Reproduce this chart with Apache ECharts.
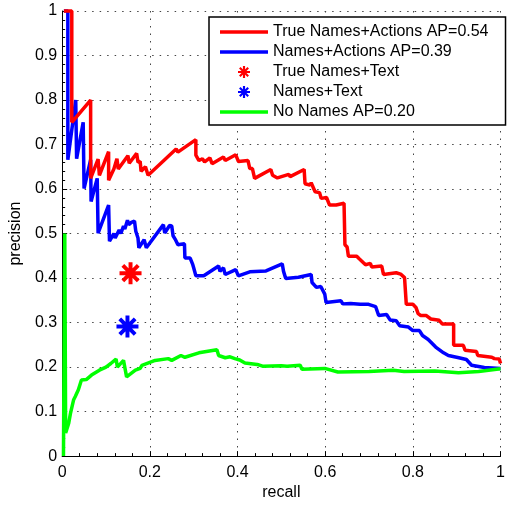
<!DOCTYPE html>
<html>
<head>
<meta charset="utf-8">
<script src="https://cdn.jsdelivr.net/npm/echarts@6/dist/echarts.min.js"></script>
<style>
html,body{margin:0;padding:0;background:#fff;}
#chart{width:508px;height:506px;}
</style>
</head>
<body>
<div id="chart"></div>
<script>
// ---- data ----
const xTickLabels = ['0', '0.2', '0.4', '0.6', '0.8', '1'];
const yTickLabels = ['0', '0.1', '0.2', '0.3', '0.4', '0.5', '0.6', '0.7', '0.8', '0.9', '1'];

const seriesNames = ['True Names+Actions AP=0.54', 'Names+Actions AP=0.39', 'True Names+Text', 'Names+Text', 'No Names AP=0.20'];

const redRecall = [0.004,0.022,0.022,0.065,0.065,0.082,0.085,0.106,0.106,0.118,0.125,0.128,0.150,0.153,0.170,0.173,0.178,0.180,0.190,0.196,0.260,0.264,0.305,0.305,0.312,0.320,0.325,0.337,0.342,0.368,0.372,0.396,0.402,0.424,0.428,0.434,0.439,0.476,0.480,0.491,0.517,0.520,0.552,0.554,0.565,0.568,0.577,0.587,0.591,0.603,0.610,0.625,0.643,0.645,0.650,0.653,0.672,0.677,0.692,0.703,0.706,0.729,0.733,0.762,0.772,0.781,0.785,0.800,0.807,0.812,0.818,0.830,0.841,0.860,0.867,0.893,0.893,0.915,0.919,0.945,0.948,0.980,0.986,0.997,1.0];
const redPrecision = [1.0,1.0,0.75,0.80,0.624,0.667,0.631,0.684,0.620,0.645,0.668,0.645,0.675,0.658,0.680,0.660,0.662,0.640,0.650,0.631,0.690,0.683,0.711,0.676,0.664,0.668,0.661,0.670,0.657,0.672,0.664,0.677,0.662,0.664,0.646,0.646,0.624,0.644,0.631,0.625,0.633,0.628,0.644,0.612,0.609,0.614,0.594,0.592,0.579,0.581,0.564,0.564,0.568,0.475,0.470,0.449,0.449,0.444,0.430,0.433,0.425,0.427,0.408,0.412,0.409,0.401,0.341,0.341,0.334,0.320,0.316,0.316,0.308,0.305,0.297,0.297,0.249,0.249,0.238,0.235,0.226,0.222,0.219,0.218,0.208];

const blueRecall = [0.004,0.013,0.013,0.031,0.033,0.048,0.050,0.065,0.066,0.080,0.082,0.106,0.108,0.118,0.121,0.130,0.134,0.140,0.143,0.149,0.152,0.158,0.165,0.168,0.173,0.175,0.187,0.192,0.231,0.234,0.245,0.250,0.253,0.258,0.264,0.279,0.280,0.292,0.298,0.300,0.305,0.323,0.357,0.360,0.368,0.372,0.396,0.402,0.428,0.465,0.502,0.505,0.510,0.539,0.568,0.570,0.580,0.590,0.599,0.602,0.636,0.640,0.658,0.680,0.699,0.715,0.722,0.740,0.748,0.762,0.770,0.790,0.800,0.815,0.822,0.835,0.852,0.870,0.881,0.905,0.922,0.934,0.963,1.0];
const bluePrecision = [1.0,1.0,0.666,0.80,0.668,0.75,0.601,0.666,0.572,0.624,0.501,0.564,0.483,0.500,0.490,0.508,0.500,0.517,0.510,0.530,0.520,0.525,0.528,0.505,0.490,0.468,0.486,0.468,0.520,0.501,0.518,0.517,0.495,0.487,0.475,0.477,0.445,0.445,0.430,0.423,0.405,0.405,0.427,0.415,0.423,0.408,0.419,0.405,0.414,0.416,0.432,0.415,0.399,0.402,0.408,0.390,0.379,0.381,0.364,0.345,0.349,0.342,0.343,0.341,0.341,0.336,0.316,0.318,0.306,0.304,0.293,0.290,0.282,0.282,0.271,0.262,0.245,0.232,0.226,0.221,0.217,0.204,0.199,0.197];

const greenRecall = [0.003,0.006,0.008,0.015,0.019,0.026,0.030,0.037,0.044,0.048,0.055,0.067,0.071,0.085,0.089,0.100,0.111,0.123,0.126,0.140,0.142,0.147,0.167,0.178,0.182,0.212,0.216,0.242,0.250,0.271,0.280,0.312,0.316,0.353,0.357,0.372,0.383,0.394,0.405,0.417,0.445,0.457,0.500,0.513,0.543,0.547,0.599,0.629,0.700,0.755,0.780,0.850,0.904,0.950,1.0];
const greenPrecision = [0.0,0.50,0.052,0.074,0.096,0.126,0.134,0.149,0.171,0.174,0.172,0.182,0.182,0.193,0.197,0.200,0.208,0.218,0.200,0.215,0.215,0.178,0.193,0.197,0.204,0.215,0.213,0.219,0.215,0.226,0.222,0.232,0.228,0.239,0.226,0.221,0.223,0.219,0.216,0.209,0.206,0.202,0.203,0.202,0.204,0.195,0.197,0.189,0.190,0.193,0.190,0.191,0.187,0.190,0.196];

const trueTextPoint = [0.156, 0.411];
const namesTextPoint = [0.149, 0.291];

// ---- chart ----
const pairs = (xs, ys) => xs.map((x, i) => [x, ys[i]]);
const asterisk = 'path://M0,41L100,41L100,59L0,59Z M41,0L59,0L59,100L41,100Z M21.36,8.64L91.36,78.64L78.64,91.36L8.64,21.36Z M91.36,21.36L21.36,91.36L8.64,78.64L78.64,8.64Z';
const lineIcon = 'path://M0,0 M48,12 M0,4.3 L48,4.3 L48,7.7 L0,7.7 Z';
const FONT = 'Liberation Sans, Arial, Helvetica, sans-serif';

const chart = echarts.init(document.getElementById('chart'), null, {renderer: 'canvas'});
const gridLine = {show: true, lineStyle: {color: '#444', width: 1, type: [1.5, 6]}};
chart.setOption({
  animation: false,
  backgroundColor: '#fff',
  grid: {left: 58, right: 2, top: 11, bottom: 46, containLabel: false},
  xAxis: {
    type: 'value', min: 0, max: 1, interval: 0.2,
    name: 'recall', nameLocation: 'middle', nameGap: 25,
    nameTextStyle: {color: '#000', fontSize: 16, fontFamily: FONT},
    axisLine: {show: true, onZero: false, lineStyle: {color: '#000', width: 1}},
    axisTick: {show: true, inside: true, length: 5, lineStyle: {color: '#000'}},
    minorTick: {show: true, splitNumber: 5, length: 3, lineStyle: {color: '#000'}},
    axisLabel: {color: '#000', fontSize: 16, fontFamily: FONT, margin: 8,
      formatter: v => xTickLabels[Math.round(v * 5)]},
    splitLine: gridLine
  },
  yAxis: {
    type: 'value', min: 0, max: 1, interval: 0.1,
    name: 'precision', nameLocation: 'middle', nameGap: 35,
    nameTextStyle: {color: '#000', fontSize: 16, fontFamily: FONT},
    axisLine: {show: true, onZero: false, lineStyle: {color: '#000', width: 1}},
    axisTick: {show: true, inside: true, length: 5, lineStyle: {color: '#000'}},
    minorTick: {show: true, splitNumber: 5, length: 3, lineStyle: {color: '#000'}},
    axisLabel: {color: '#000', fontSize: 16, fontFamily: FONT, margin: 5,
      formatter: v => yTickLabels[Math.round(v * 10)]},
    splitLine: gridLine
  },
  legend: {
    orient: 'vertical', left: 209, top: 17,
    padding: [7, 17, 5, 11], itemGap: 4,
    itemWidth: 48, itemHeight: 12,
    backgroundColor: '#fff', borderColor: '#000', borderWidth: 1.5, borderRadius: 0,
    textStyle: {color: '#000', fontSize: 16, fontFamily: FONT},
    data: [
      {name: seriesNames[0], icon: lineIcon},
      {name: seriesNames[1], icon: lineIcon},
      {name: seriesNames[2]},
      {name: seriesNames[3]},
      {name: seriesNames[4], icon: lineIcon}
    ]
  },
  series: [
    {name: seriesNames[1], type: 'line', data: pairs(blueRecall, bluePrecision), symbol: 'none', clip: false,
      lineStyle: {color: '#0000ff', width: 3.5}, itemStyle: {color: '#0000ff'}},
    {name: seriesNames[0], type: 'line', data: pairs(redRecall, redPrecision), symbol: 'none', clip: false,
      lineStyle: {color: '#ff0000', width: 3.5}, itemStyle: {color: '#ff0000'}},
    {name: seriesNames[2], type: 'scatter', data: [trueTextPoint], symbol: asterisk, symbolSize: 22,
      itemStyle: {color: '#ff0000', opacity: 1}},
    {name: seriesNames[3], type: 'scatter', data: [namesTextPoint], symbol: asterisk, symbolSize: 22,
      itemStyle: {color: '#0000ff', opacity: 1}},
    {name: seriesNames[4], type: 'line', data: pairs(greenRecall, greenPrecision), symbol: 'none', clip: false,
      lineStyle: {color: '#00ff00', width: 3.5}, itemStyle: {color: '#00ff00'}}
  ]
});
</script>
</body>
</html>
